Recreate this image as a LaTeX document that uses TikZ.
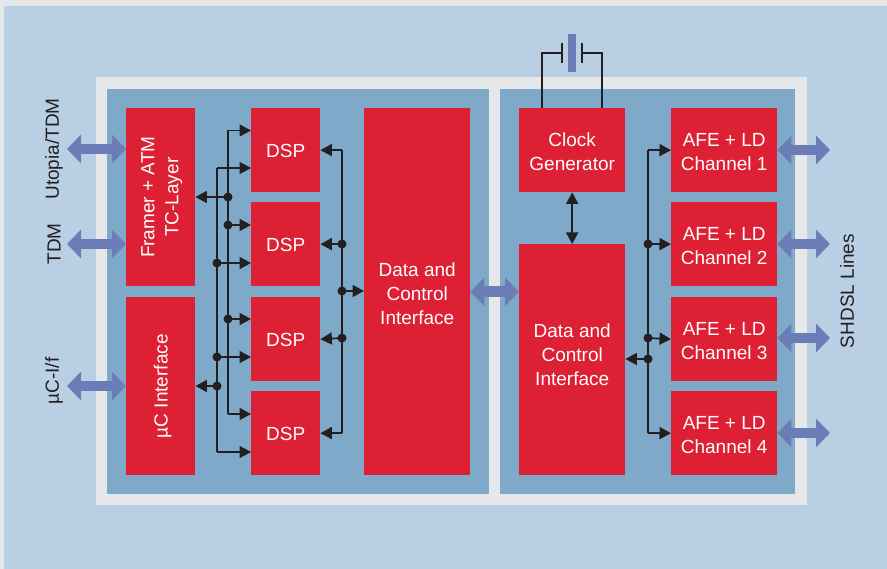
\documentclass[tikz,border=0pt]{standalone}
\usepackage{fontspec}
\setmainfont{Liberation Sans}
\usetikzlibrary{arrows.meta}
\definecolor{pagegray}{HTML}{E6E7E8}
\definecolor{paleblue}{HTML}{B9CFE3}
\definecolor{midblue}{HTML}{7FA9C9}
\definecolor{boxred}{HTML}{DD2033}
\definecolor{bigarrow}{HTML}{6B7DB6}
\definecolor{ink}{HTML}{231F20}
\tikzset{
  redbox/.style={fill=boxred,inner sep=0pt,anchor=north west},
  boxtext/.style={text=white,inner sep=0pt,align=center,font=\fontsize{19}{24}\selectfont},
  bigarr/.style={bigarrow,line width=10.5pt,{Triangle[length=14pt,width=28pt]}-{Triangle[length=14pt,width=28pt]}},
  wire/.style={ink,line width=1.7pt},
  wirearr/.style={wire,-{Triangle[length=11.5pt,width=12pt]}},
  wiredbl/.style={wire,{Triangle[length=11.5pt,width=12pt]}-{Triangle[length=11.5pt,width=12pt]}},
  junction/.style={circle,fill=ink,inner sep=0pt,minimum size=9pt},
  sidelabel/.style={ink,rotate=90,inner sep=0pt,font=\fontsize{19}{24}\selectfont},
}
\begin{document}
\begin{tikzpicture}[x=1pt,y=-1pt]
\useasboundingbox (0,0) rectangle (887,569);
\fill[pagegray] (0,0) rectangle (887,569);
\fill[paleblue] (4,6) rectangle (887,569);
\fill[pagegray] (96,77) rectangle (807,505);
\fill[midblue] (107,89) rectangle (489,494);
\fill[midblue] (500,89) rectangle (795,494);
% battery body (behind wires)
\fill[bigarrow] (568,34) rectangle (576,72);
% boxes
\node[redbox,minimum width=69pt,minimum height=178pt] (framer) at (126,108) {};
\node[redbox,minimum width=69pt,minimum height=178pt] (uc) at (126,297) {};
\node[redbox,minimum width=69pt,minimum height=84pt] (dspa) at (251,108) {};
\node[redbox,minimum width=69pt,minimum height=84pt] (dspb) at (251,202) {};
\node[redbox,minimum width=69pt,minimum height=84pt] (dspc) at (251,297) {};
\node[redbox,minimum width=69pt,minimum height=84pt] (dspd) at (251,391) {};
\node[redbox,minimum width=106pt,minimum height=367pt] (datal) at (364,108) {};
\node[redbox,minimum width=106pt,minimum height=84pt] (clock) at (519,108) {};
\node[redbox,minimum width=106pt,minimum height=231pt] (datar) at (519,244) {};
\node[redbox,minimum width=106pt,minimum height=84pt] (afea) at (671,108) {};
\node[redbox,minimum width=106pt,minimum height=84pt] (afeb) at (671,202) {};
\node[redbox,minimum width=106pt,minimum height=84pt] (afec) at (671,297) {};
\node[redbox,minimum width=106pt,minimum height=84pt] (afed) at (671,391) {};
% box texts
\node[boxtext,rotate=90] (framertext) at ([xshift=1pt]framer.center) {Framer + ATM\\TC-Layer};
\node[boxtext,rotate=90] (uctext) at ([xshift=2pt]uc.center) {µC Interface};
\node[boxtext] (dspatext) at ([yshift=-1pt]dspa.center) {DSP};
\node[boxtext] (dspbtext) at ([yshift=-1pt]dspb.center) {DSP};
\node[boxtext] (dspctext) at ([yshift=-1pt]dspc.center) {DSP};
\node[boxtext] (dspdtext) at ([yshift=-1pt]dspd.center) {DSP};
\node[boxtext] (dataltext) at ([yshift=-2pt]datal.center) {Data and\\Control\\Interface};
\node[boxtext] (clocktext) at ([yshift=-2pt]clock.center) {Clock\\Generator};
\node[boxtext] (datartext) at ([yshift=4.5pt]datar.center) {Data and\\Control\\Interface};
\node[boxtext] (afeatext) at ([yshift=-2pt]afea.center) {AFE + LD\\Channel 1};
\node[boxtext] (afebtext) at ([yshift=-2pt]afeb.center) {AFE + LD\\Channel 2};
\node[boxtext] (afectext) at ([yshift=-2pt]afec.center) {AFE + LD\\Channel 3};
\node[boxtext] (afedtext) at ([yshift=-2pt]afed.center) {AFE + LD\\Channel 4};
% free ends
\coordinate (utopiaend) at (67,149);
\coordinate (tdmend) at (67,244);
\coordinate (ucend) at (67,386);
\coordinate (linea) at (830,150);
\coordinate (lineb) at (830,244);
\coordinate (linec) at (830,338);
\coordinate (lined) at (830,433);
% big arrows
\draw[bigarr] (utopiaend) -- (utopiaend -| framer.west);
\draw[bigarr] (tdmend) -- (tdmend -| framer.west);
\draw[bigarr] (ucend) -- (ucend -| uc.west);
\draw[bigarr] (datal.east) -- (datal.east -| datar.west);
\draw[bigarr] (linea -| afea.east) -- (linea);
\draw[bigarr] (lineb -| afeb.east) -- (lineb);
\draw[bigarr] (linec -| afec.east) -- (linec);
\draw[bigarr] (lined -| afed.east) -- (lined);
% labels
\node[sidelabel] (lutopia) at (54,149) {Utopia/TDM};
\node[sidelabel] (ltdm) at (54,244) {TDM};
\node[sidelabel] (luc) at (54,381) {µC-I/f};
\node[sidelabel] (lshdsl) at (847,291) {SHDSL Lines};
% left bus 228
\coordinate (ba1) at (228,130.5);
\coordinate (ba2) at (228,414);
\coordinate (ja1) at (228,197);
\coordinate (ja2) at (228,225);
\coordinate (ja3) at (228,319);
\draw[wire] (ba1) -- (ba2);
\draw[wirearr] (ba1) -- (ba1 -| dspa.west);
\draw[wirearr] (ba2) -- (ba2 -| dspd.west);
\draw[wirearr] (ja1) -- (ja1 -| framer.east);
\draw[wirearr] (ja2) -- (ja2 -| dspb.west);
\draw[wirearr] (ja3) -- (ja3 -| dspc.west);
% left bus 217
\coordinate (bb1) at (217,168);
\coordinate (bb2) at (217,452);
\coordinate (jb1) at (217,263);
\coordinate (jb2) at (217,357);
\coordinate (jb3) at (217,386);
\draw[wire] (bb1) -- (bb2);
\draw[wirearr] (bb1) -- (bb1 -| dspa.west);
\draw[wirearr] (bb2) -- (bb2 -| dspd.west);
\draw[wirearr] (jb1) -- (jb1 -| dspb.west);
\draw[wirearr] (jb2) -- (jb2 -| dspc.west);
\draw[wirearr] (jb3) -- (jb3 -| uc.east);
% DSP to data bus
\coordinate (bc1) at (342,150);
\coordinate (bc2) at (342,433);
\coordinate (jc1) at (342,244);
\coordinate (jc2) at (342,291);
\coordinate (jc3) at (342,338);
\draw[wire] (bc1) -- (bc2);
\draw[wirearr] (bc1) -- (dspa.east);
\draw[wirearr] (bc2) -- (dspd.east);
\draw[wirearr] (jc1) -- (dspb.east);
\draw[wirearr] (jc2) -- (jc2 -| datal.west);
\draw[wirearr] (jc3) -- (dspc.east);
% AFE bus
\coordinate (bd1) at (648,150);
\coordinate (bd2) at (648,433);
\coordinate (jd1) at (648,244);
\coordinate (jd2) at (648,338);
\coordinate (jd3) at (648,359);
\draw[wire] (bd1) -- (bd2);
\draw[wirearr] (bd1) -- (afea.west);
\draw[wirearr] (bd2) -- (afed.west);
\draw[wirearr] (jd1) -- (afeb.west);
\draw[wirearr] (jd2) -- (afec.west);
\draw[wirearr] (jd3) -- (jd3 -| datar.east);
% clock to data
\draw[wiredbl] (clock.south) -- (datar.north);
% battery
\coordinate (pla) at (562,53);
\coordinate (plb) at (582,53);
\draw[wire] (clock.north -| 542,0) -- (542,53) -- (pla);
\draw[wire] (clock.north -| 602,0) -- (602,53) -- (plb);
\draw[ink,line width=2pt] (562,43) -- (562,63);
\draw[ink,line width=2pt] (582,43) -- (582,63);
% junctions
\foreach \j in {ja1,ja2,ja3,jb1,jb2,jb3,jc1,jc2,jc3,jd1,jd2,jd3}
  \node[junction] at (\j) {};
\end{tikzpicture}
\end{document}
